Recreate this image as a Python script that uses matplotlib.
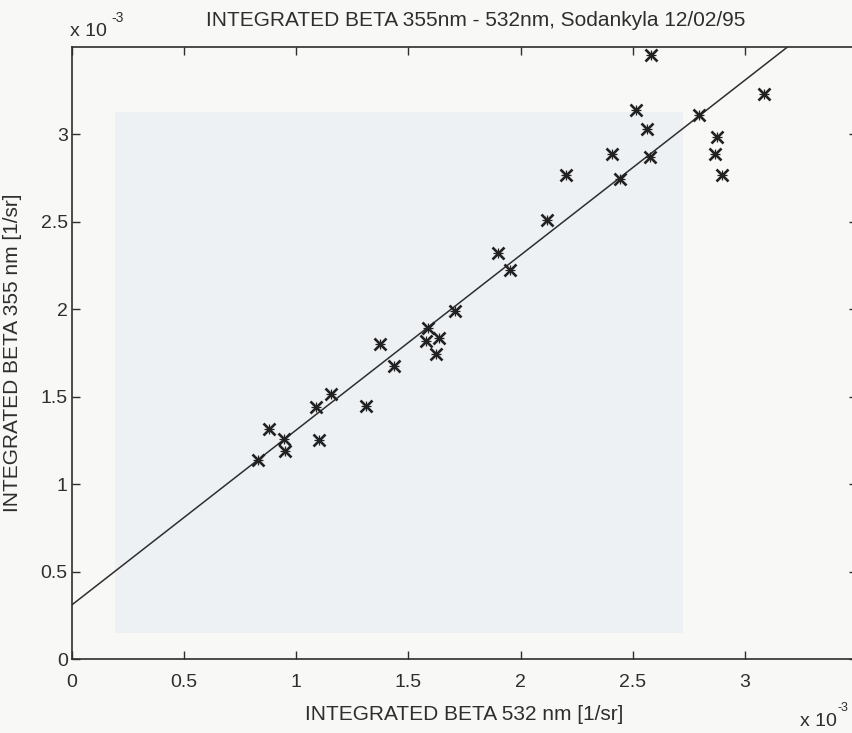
import matplotlib
matplotlib.use("Agg")
import matplotlib.pyplot as plt
from matplotlib.patches import Rectangle

# integrated backscatter, units of 1e-3 1/sr
beta_532 = [0.828, 0.877, 0.944, 0.949, 1.101, 1.090, 1.156, 1.309, 1.372, 1.436,
            1.577, 1.588, 1.625, 1.638, 1.708, 1.898, 1.951, 2.117, 2.203, 2.407,
            2.444, 2.513, 2.565, 2.575, 2.583, 2.796, 2.866, 2.876, 2.898, 3.085]
beta_355 = [1.137, 1.313, 1.261, 1.190, 1.251, 1.442, 1.518, 1.448, 1.804, 1.676,
            1.819, 1.895, 1.747, 1.836, 1.989, 2.322, 2.227, 2.513, 2.770, 2.890,
            2.745, 3.141, 3.032, 2.870, 3.457, 3.109, 2.890, 2.985, 2.770, 3.229]

fit_intercept = 0.31
fit_slope = 1.0
fit_x = [0.0, 3.5]

tick_vals = [0, 0.5, 1, 1.5, 2, 2.5, 3]
tick_labels = ["0", "0.5", "1", "1.5", "2", "2.5", "3"]

W, H = 853, 733
ink = "#2e2e2e"

plt.rcParams["font.family"] = ["Liberation Sans", "DejaVu Sans"]

fig = plt.figure(figsize=(W / 100, H / 100), dpi=100, facecolor="#f8f8f6")

# faint scan bleed-through behind the plot
shade = Rectangle((115 / W, 1 - 633 / H), (683 - 115) / W, (633 - 112) / H,
                  transform=fig.transFigure, facecolor="#eef1f4",
                  edgecolor="none", zorder=-5)
fig.patches.append(shade)

ax = fig.add_axes([72 / W, 1 - 659 / H, (857 - 72) / W, (659 - 47) / H])
ax.set_facecolor("none")

ax.plot(fit_x, [fit_intercept + fit_slope * v for v in fit_x], color=ink, lw=1.1)
ax.plot(beta_532, beta_355, ls="none", marker="x", ms=8, mew=1.9, color="#222222")
ax.plot(beta_532, beta_355, ls="none", marker="+", ms=7.5, mew=0.9, color="#222222")

ax.set_xlim(0, 3.5)
ax.set_ylim(0, 3.5)
ax.set_xticks(tick_vals)
ax.set_xticklabels(tick_labels)
ax.set_yticks(tick_vals)
ax.set_yticklabels(tick_labels)
ax.tick_params(axis="both", direction="in", length=6, width=1.0, color=ink,
               labelsize=14, labelcolor=ink, top=True, right=True)
ax.tick_params(axis="x", pad=11)
ax.tick_params(axis="y", pad=3)
for spine in ax.spines.values():
    spine.set_color(ink)
    spine.set_linewidth(1.2)

ax.set_xlabel("INTEGRATED BETA 532 nm [1/sr]", fontsize=15, color=ink)
ax.set_ylabel("INTEGRATED BETA 355 nm [1/sr]", fontsize=15, color=ink)
ax.xaxis.set_label_coords((464 - 72) / (857 - 72), -(705 - 659) / (659 - 47))
ax.yaxis.set_label_coords(-(72 - 22) / (857 - 72), 0.5)

fig.text(476 / W, 1 - 20 / H, "INTEGRATED BETA 355nm - 532nm, Sodankyla 12/02/95",
         ha="center", va="center", fontsize=15, color=ink)

fig.text(70 / W, 1 - 32 / H, "x 10", ha="left", va="center", fontsize=14, color=ink)
fig.text(111 / W, 1 - 18 / H, "-3", ha="left", va="center", fontsize=10, color=ink)
fig.text(800 / W, 1 - 722 / H, "x 10", ha="left", va="center", fontsize=14, color=ink)
fig.text(838 / W, 1 - 708 / H, "-3", ha="left", va="center", fontsize=9, color=ink)

fig.savefig("out.png", dpi=100, facecolor=fig.get_facecolor())
